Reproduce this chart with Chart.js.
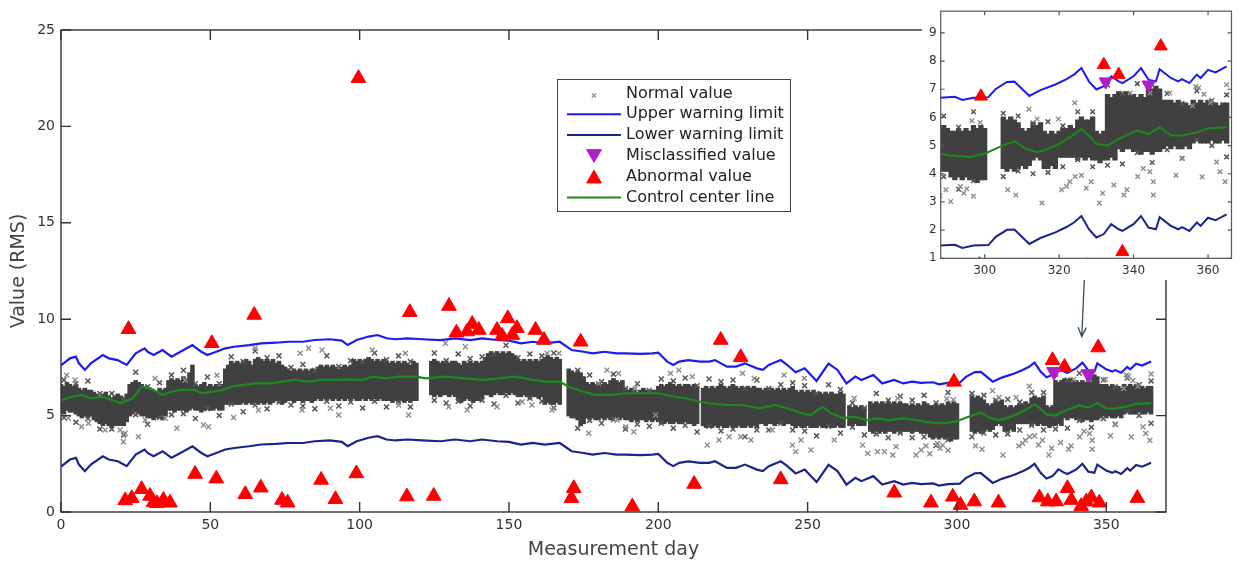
<!DOCTYPE html>
<html>
<head>
<meta charset="utf-8">
<title>Measurement control chart</title>
<script src="https://cdn.jsdelivr.net/npm/chart.js@4.4.1/dist/chart.umd.min.js"></script>
<style>
  html, body { margin: 0; padding: 0; background: #fff; }
  #wrap { position: relative; width: 1240px; height: 563px; }
  #main { position: absolute; left: 0; top: 0; }
  #zoom { position: absolute; left: 922px; top: 0; background: #fff; }
</style>
</head>
<body>
<div id="wrap">
  <canvas id="main" width="1240" height="563"></canvas>
  <canvas id="zoom" width="318" height="280"></canvas>
</div>
<script>
// bulk of the normal readings per day (low / high of the dense band), null = no data
const normLow = [
  5.2, 5.1, 5.3, 5.2, 5.2, 5.1, 5.0, 4.9, 5.0, 4.9,
  5.0, 4.8, 4.7, 4.6, 4.5, 4.6, 4.5, 4.4, 4.5, 4.5,
  4.5, 4.5, 4.7, 5.0, 5.1, 5.2, 5.1, 5.0, 5.0, 4.9,
  4.9, 4.8, 4.9, 4.9, 4.8, 5.0, 5.3, 5.3, 5.2, 5.3,
  5.3, 5.3, 5.2, 5.3, 5.4, 5.3, 5.3, 5.2, 5.3, 5.4,
  5.3, 5.3, 5.4, 5.3, 5.3, 5.6, 5.6, 5.7, 5.6, 5.6,
  5.6, 5.7, 5.6, 5.7, 5.6, 5.7, 5.6, 5.7, 5.6, 5.7,
  5.6, 5.7, 5.8, 5.7, 5.6, 5.7, 5.8, 5.8, 5.7, 5.8,
  5.8, 5.7, 5.8, 5.8, 5.7, 5.8, 5.9, 5.8, 5.9, 5.8,
  5.9, 5.8, 5.9, 5.8, 5.9, 5.8, 5.9, 5.8, 5.9, 5.8,
  5.8, 5.9, 5.8, 5.9, 5.8, 5.9, 5.8, 5.9, 5.8, 5.8,
  5.8, 5.7, 5.8, 5.7, 5.8, 5.7, 5.8, 5.7, 5.8, 5.8,
  null, null, null, null, 6.1, 6.0, 6.1, 6.0, 6.1, 6.1,
  6.0, 6.1, 6.0, 5.8, 5.7, 5.8, 5.9, 5.8, 5.7, 5.8,
  5.8, 5.9, 6.1, 6.1, 6.0, 6.1, 6.2, 6.1, 6.1, 6.2,
  6.1, 6.2, 6.1, 6.0, 6.0, 6.1, 6.0, 5.9, 6.0, 6.0,
  5.9, 6.0, 5.6, 5.7, 5.6, 5.6, 5.7, 5.6, null, null,
  5.0, 4.9, 4.9, 4.8, 4.5, 4.6, 4.9, 4.8, 4.9, 4.8,
  4.8, 4.9, 4.8, 4.9, 4.8, 4.9, 4.9, 4.8, 4.9, 4.8,
  4.8, 4.7, 4.8, 4.7, 4.8, 4.8, 4.7, 4.8, 4.7, 4.8,
  4.7, 4.6, 4.6, 4.7, 4.6, 4.6, 4.7, 4.6, 4.6, 4.7,
  4.6, 4.6, 4.5, 4.6, null, 4.5, 4.4, 4.5, 4.4, 4.5,
  4.4, 4.5, 4.4, 4.4, 4.5, 4.4, 4.4, 4.5, 4.4, 4.4,
  4.5, 4.4, 4.5, 4.4, 4.6, 4.6, 4.5, 4.6, 4.6, 4.5,
  4.6, 4.6, 4.5, 4.6, 4.6, 4.5, 4.4, 4.5, 4.4, 4.4,
  4.5, 4.4, 4.4, 4.4, 4.5, 4.4, 4.4, 4.5, 4.4, 4.4,
  4.5, 4.4, 4.4, null, 4.5, 4.5, 4.6, 4.5, 4.5, 4.5,
  null, 4.2, 4.1, 4.2, 4.1, 4.2, 4.1, 4.2, 4.2, 4.1,
  4.2, 4.1, 4.2, 4.2, 4.2, 4.1, 4.2, 4.2, 4.1, 4.1,
  4.1, 3.9, 3.8, 3.9, 3.8, 3.9, 3.8, 3.8, 3.7, 3.8,
  3.8, null, null, null, null, 4.2, 4.1, 4.2, 4.1, 4.2,
  4.3, 4.2, 4.3, 4.5, 4.6, 4.5, 4.2, 4.2, 4.3, 4.2,
  4.6, 4.6, 4.6, 4.6, 4.6, 4.5, 4.6, 4.5, 4.6, 4.5,
  4.5, 4.4, 4.5, 4.5, 4.6, 4.5, 4.9, 4.8, 4.9, 4.9,
  4.8, 4.8, 4.7, 4.8, 4.8, 4.7, 4.8, 4.8, 4.9, 5.0,
  4.9, 5.0, 4.9, 4.9, 5.0, 4.9, 5.1, 5.2, 5.1, 5.1,
  5.1, 5.2, 5.1, 5.1, 5.2, 5.1
];
const normHigh = [
  6.6, 6.5, 6.7, 6.6, 6.5, 6.6, 6.4, 6.3, 6.4, 6.3,
  6.3, 6.2, 6.1, 6.0, 6.1, 6.2, 6.0, 5.9, 6.0, 6.1,
  6.0, 5.9, 6.1, 6.6, 6.7, 6.8, 6.7, 6.6, 6.5, 6.4,
  6.3, 6.3, 6.2, 6.4, 6.3, 6.4, 6.8, 6.9, 6.8, 6.9,
  6.8, 7.0, 6.9, 7.2, 7.6, 6.6, 6.5, 6.6, 6.7, 6.5,
  6.6, 6.5, 6.6, 6.5, 6.6, 7.4, 7.6, 7.8, 7.7, 7.8,
  7.7, 7.8, 7.9, 7.8, 7.6, 7.9, 8.0, 7.9, 7.8, 7.9,
  7.8, 7.9, 7.7, 7.8, 7.6, 7.5, 7.4, 7.3, 7.4, 7.3,
  7.4, 7.3, 7.4, 7.3, 7.4, 7.3, 7.5, 7.6, 7.5, 7.6,
  7.5, 7.6, 7.5, 7.4, 7.5, 7.6, 7.5, 7.6, 7.9, 7.8,
  7.9, 7.8, 7.9, 8.0, 7.9, 7.8, 7.9, 7.8, 7.9, 7.8,
  7.7, 7.8, 7.7, 7.8, 7.7, 7.8, 7.7, 7.6, 7.8, 7.7,
  null, null, null, null, 7.8, 7.9, 7.8, 7.7, 7.8, 7.8,
  7.7, 7.8, 7.8, 7.7, 7.6, 7.8, 7.7, 7.8, 7.7, 7.8,
  7.7, 7.8, 8.0, 8.2, 8.3, 8.2, 8.3, 8.2, 8.3, 8.2,
  8.3, 8.2, 8.1, 7.9, 7.8, 7.9, 7.8, 7.9, 7.8, 7.9,
  7.8, 7.9, 8.0, 8.1, 8.0, 7.9, 8.0, 7.9, null, null,
  7.4, 7.3, 7.2, 7.3, 7.2, 7.0, 6.7, 6.6, 6.7, 6.6,
  6.7, 6.6, 6.7, 6.6, 6.8, 6.9, 6.8, 6.7, 6.8, 6.4,
  6.3, 6.4, 6.3, 6.2, 6.3, 6.4, 6.3, 6.2, 6.3, 6.3,
  6.5, 6.6, 6.5, 6.6, 6.7, 6.6, 6.5, 6.6, 6.5, 6.6,
  6.6, 6.5, 6.6, 6.5, null, 6.4, 6.5, 6.4, 6.5, 6.4,
  6.5, 6.6, 6.5, 6.4, 6.5, 6.6, 6.5, 6.4, 6.5, 6.4,
  6.5, 6.4, 6.5, 6.4, 6.4, 6.3, 6.4, 6.3, 6.4, 6.3,
  6.4, 6.3, 6.4, 6.3, 6.4, 6.5, 6.3, 6.2, 6.3, 6.2,
  6.3, 6.2, 6.3, 6.1, 6.2, 6.1, 6.2, 6.1, 6.2, 6.1,
  6.1, 6.2, 6.1, null, 5.5, 5.4, 5.5, 5.4, 5.5, 5.4,
  null, 5.7, 5.6, 5.7, 5.6, 5.7, 5.6, 5.7, 5.6, 5.7,
  5.6, 5.7, 5.6, 5.6, 5.5, 5.6, 5.5, 5.6, 5.5, 5.7,
  5.6, 5.5, 5.5, 5.6, 5.5, 5.6, 5.5, 5.7, 5.6, 5.7,
  5.6, null, null, null, null, 6.0, 5.9, 6.0, 5.9, 5.8,
  5.6, 5.5, 5.6, 5.8, 5.7, 5.8, 5.5, 5.4, 5.5, 5.4,
  5.5, 5.6, 5.6, 5.7, 5.6, 5.9, 6.0, 5.9, 5.9, 6.0,
  5.5, 5.4, 5.5, 6.8, 6.7, 6.8, 6.9, 6.8, 6.9, 6.8,
  6.8, 6.7, 6.8, 6.7, 7.1, 7.0, 7.1, 7.0, 6.6, 6.6,
  6.6, 6.5, 6.6, 6.5, 6.5, 6.4, 6.6, 6.5, 6.6, 6.5,
  6.6, 6.5, 6.5, 6.4, 6.5, 6.5
];

// normal readings scattered along the ragged upper / lower edge of the band
const edgeDays = [
  1, 5, 9, 13, 17, 21, 25, 29, 33, 37, 41, 45, 49, 53, 57, 61, 65, 69, 73, 77,
  81, 85, 89, 93, 97, 101, 105, 109, 113, 117, 125, 129, 133, 137, 141, 145, 149, 153, 157, 161,
  165, 173, 177, 181, 185, 189, 193, 197, 201, 205, 209, 213, 217, 221, 225, 229, 233, 237, 241, 245,
  249, 253, 257, 261, 265, 269, 273, 277, 281, 285, 289, 293, 297, 305, 309, 313, 317, 321, 325, 329,
  333, 337, 341, 345, 349, 353, 357, 361, 365
];
const edgeTop = [
  6.85, 6.65, 6.8, 6.15, 6.15, 5.9, 7.25, 6.5, 6.7, 7.1, 7.35, 6.65, 7.0, 6.65, 8.05, 7.8, 8.35, 8.0, 8.1, 7.5,
  7.65, 7.35, 8.1, 7.55, 7.85, 7.8, 8.25, 7.9, 8.1, 7.8, 8.25, 7.85, 8.2, 7.95, 8.05, 8.2, 8.65, 8.0, 8.2, 8.1,
  8.25, 7.35, 7.1, 6.75, 7.15, 6.4, 6.65, 6.3, 6.9, 6.8, 6.95, 6.55, 6.9, 6.75, 6.85, 6.4, 6.85, 6.4, 6.6, 6.7,
  6.55, 6.15, 6.6, 6.35, 5.65, 5.4, 6.15, 5.8, 6.0, 5.8, 6.05, 5.65, 6.2, 6.15, 6.05, 5.8, 5.85, 5.7, 6.2, 6.2,
  7.15, 6.85, 7.2, 7.15, 6.85, 6.5, 6.95, 6.6, 6.8
];
const edgeBottom = [
  4.9, 4.65, 4.85, 4.3, 4.3, 4.0, 5.05, 4.55, 4.9, 5.05, 5.1, 4.85, 5.35, 5.0, 5.6, 5.2, 5.55, 5.35, 5.7, 5.55,
  5.5, 5.35, 5.75, 5.5, 5.7, 5.4, 5.75, 5.45, 5.7, 5.45, 5.8, 5.65, 5.75, 5.5, 5.8, 5.6, 6.05, 5.65, 5.9, 5.75,
  5.4, 4.35, 4.75, 4.6, 4.8, 4.3, 4.55, 4.45, 4.6, 4.35, 4.5, 4.15, 4.45, 4.2, 4.3, 3.9, 4.25, 4.25, 4.6, 4.25,
  4.2, 3.95, 4.45, 4.1, 4.4, 4.0, 4.05, 3.85, 4.1, 3.85, 3.9, 3.45, 3.75, 3.9, 4.1, 4.0, 4.05, 4.25, 4.5, 4.25,
  4.3, 4.35, 4.75, 4.4, 4.85, 4.55, 5.2, 5.0, 4.6
];

// normal readings lying outside the dense band
const normX = [
  1.9, 2.5, 4.7, 6.9, 9.2, 14.8, 19.8, 20.9, 21.5, 25.9, 28.2, 31.5, 34.9, 38.8, 41.6,
  47.7, 49.4, 52.2, 57.8, 65, 66.1, 80.1, 80.7, 82.9, 87.4, 90.2, 93, 104.2, 113.1, 115.3,
  116.4, 128.7, 129.8, 135.4, 136, 146, 154.4, 157.7, 162.8, 164.4, 166.7, 176.7, 180, 182.8, 186.2,
  186.7, 189.1, 191.8, 192.3, 199.1, 204.1, 206.9, 211.4, 216.4, 220.3, 223.7, 227.6, 228.2, 231, 232.1,
  238.2, 242.1, 244.9, 246, 247.8, 248.9, 251.1, 258.9, 265.6, 268.4, 270.1, 273.4, 275.7, 278.5, 279.6,
  280.2, 286.3, 288, 289.6, 290.9, 293.5, 294.4, 295.2, 296.6, 297, 298.8, 306.2, 308.4, 311.9, 314.1,
  315.4, 319.8, 320.7, 322, 322.9, 324.2, 324.3, 326, 327.3, 328.6, 330.8, 331.7, 334.7, 337.4, 338.2,
  339.1, 341.1, 342.6, 344.4, 344.4, 345.3, 345.3, 349.7, 351.4, 353.1, 355.8, 356.7, 357.5, 358.4, 358.9,
  360.6, 362.3, 363.2, 364.6, 365
];
const normY = [
  7.1, 4.86, 6.85, 4.42, 4.6, 4.25, 4.25, 3.64, 4.08, 3.9, 4.77, 6.93, 4.86, 4.34, 6.85,
  4.51, 4.42, 7.1, 4.9, 8.49, 5.29, 8.23, 5.29, 8.49, 8.4, 5.38, 5.03, 8.4, 5.55, 8.23,
  5.03, 8.75, 5.46, 8.57, 5.29, 5.46, 5.72, 5.55, 8.23, 5.29, 8.23, 4.08, 6.67, 7.36, 4.77,
  7.19, 4.42, 4.16, 6.41, 5.03, 7.19, 7.36, 7.02, 3.47, 3.73, 3.9, 3.9, 7.19, 3.73, 6.93,
  4.25, 7.1, 3.47, 3.13, 3.73, 6.93, 3.22, 3.73, 5.9, 3.47, 3.04, 3.13, 3.13, 2.96, 3.39,
  5.9, 2.96, 3.22, 3.43, 3.02, 3.55, 3.31, 3.47, 5.88, 3.2, 5.82, 3.43, 3.25, 6.29, 5.94,
  2.96, 5.94, 3.43, 3.56, 3.72, 6.52, 3.9, 3.95, 3.49, 3.72, 2.96, 3.31, 3.6, 3.25, 3.43,
  6.87, 3.9, 4.19, 4.07, 6.87, 3.25, 3.72, 6.87, 3.95, 4.54, 6.41, 7.1, 7.05, 3.89, 6.82,
  6.52, 4.42, 4.07, 3.72, 7.16
];

// warning limits
const limitDays = [
  0, 3, 5, 6, 8, 10, 14, 16, 19, 21, 22, 25, 28, 29, 31, 34, 37, 40, 44, 47,
  49, 52, 55, 58, 63, 67, 72, 76, 81, 85, 90, 94, 96, 99, 103, 106, 109, 112, 116, 121,
  127, 132, 137, 141, 146, 150, 154, 158, 162, 167, 171, 175, 178, 182, 186, 189, 194, 198, 200, 203,
  205, 207, 210, 214, 217, 219, 223, 226, 229, 233, 235, 237, 241, 243, 246, 249, 253, 257, 260, 263,
  266, 268, 272, 275, 279, 282, 285, 288, 292, 294, 297, 301, 303, 306, 308, 312, 315, 319, 322, 324,
  326, 328, 330, 332, 334, 336, 337, 340, 342, 344, 346, 347, 350, 352, 353, 355, 357, 358, 360, 362,
  365
];
const upperLimit = [
  7.60, 7.97, 8.06, 7.71, 7.37, 7.71, 8.14, 7.97, 7.88, 7.71, 7.63, 8.23, 8.49, 8.31, 8.14, 8.40, 8.06, 8.31, 8.66, 8.31,
  8.14, 8.31, 8.49, 8.57, 8.66, 8.75, 8.78, 8.83, 8.83, 8.92, 8.96, 8.89, 8.66, 8.92, 9.10, 9.18, 9.01, 8.96, 9.01, 8.96,
  8.92, 9.01, 8.92, 9.01, 8.92, 8.89, 8.75, 8.83, 8.75, 8.83, 8.40, 8.31, 8.23, 8.31, 8.23, 8.23, 8.20, 8.23, 8.26, 7.80,
  7.63, 7.80, 7.88, 7.80, 7.80, 7.88, 7.54, 7.54, 7.71, 7.45, 7.37, 7.63, 7.88, 7.65, 7.25, 7.45, 6.80, 7.70, 7.37, 6.67,
  7.02, 6.85, 7.11, 6.67, 6.85, 6.67, 6.76, 6.70, 6.73, 6.62, 6.70, 6.72, 7.01, 7.26, 7.27, 6.76, 6.97, 7.17, 7.36, 7.52,
  7.75, 7.28, 6.99, 7.11, 7.46, 7.28, 7.22, 7.46, 7.75, 7.34, 7.28, 7.71, 7.40, 7.28, 7.36, 7.22, 7.52, 7.40, 7.69, 7.60,
  7.81
];
const lowerLimit = [
  2.35, 2.72, 2.81, 2.46, 2.12, 2.46, 2.89, 2.72, 2.63, 2.46, 2.38, 2.98, 3.24, 3.06, 2.89, 3.15, 2.81, 3.06, 3.41, 3.06,
  2.89, 3.06, 3.24, 3.32, 3.41, 3.50, 3.53, 3.58, 3.58, 3.67, 3.71, 3.64, 3.41, 3.67, 3.85, 3.93, 3.76, 3.71, 3.76, 3.71,
  3.67, 3.76, 3.67, 3.76, 3.67, 3.64, 3.50, 3.58, 3.50, 3.58, 3.15, 3.06, 2.98, 3.06, 2.98, 2.98, 2.95, 2.98, 3.01, 2.55,
  2.38, 2.55, 2.63, 2.55, 2.55, 2.63, 2.29, 2.29, 2.46, 2.20, 2.12, 2.38, 2.63, 2.40, 2.00, 2.20, 1.55, 2.45, 2.12, 1.42,
  1.77, 1.60, 1.86, 1.42, 1.60, 1.42, 1.51, 1.45, 1.48, 1.37, 1.45, 1.47, 1.76, 2.01, 2.02, 1.51, 1.72, 1.92, 2.11, 2.27,
  2.50, 2.03, 1.74, 1.86, 2.21, 2.03, 1.97, 2.21, 2.50, 2.09, 2.03, 2.46, 2.15, 2.03, 2.11, 1.97, 2.27, 2.15, 2.44, 2.35,
  2.56
];

// control center line
const centerDays = [
  0, 4, 7, 10, 14, 17, 20, 24, 27, 30, 34, 37, 40, 45, 47, 51, 54, 57, 61, 65,
  70, 74, 78, 83, 87, 92, 96, 101, 104, 109, 113, 119, 122, 129, 135, 141, 147, 152, 158, 162,
  167, 170, 175, 179, 184, 189, 195, 200, 205, 209, 214, 217, 223, 228, 234, 239, 245, 248, 251, 255,
  258, 262, 265, 270, 273, 277, 282, 286, 290, 292, 296, 300, 303, 306, 308, 311, 314, 316, 320, 323,
  326, 328, 330, 333, 336, 338, 341, 344, 347, 350, 353, 357, 360, 365
];
const centerLine = [
  5.80, 5.99, 6.07, 5.90, 5.99, 5.81, 5.64, 5.90, 6.50, 6.41, 6.07, 6.24, 6.33, 6.33, 6.16, 6.24, 6.33, 6.50, 6.59, 6.67,
  6.67, 6.76, 6.85, 6.76, 6.85, 6.85, 6.88, 6.85, 7.02, 6.93, 7.02, 7.02, 6.93, 7.02, 6.93, 6.85, 6.93, 7.02, 6.85, 6.76,
  6.76, 6.50, 6.24, 6.07, 6.07, 6.16, 6.16, 6.16, 5.99, 5.90, 5.72, 5.64, 5.55, 5.55, 5.38, 5.55, 5.29, 5.12, 5.03, 5.46,
  5.12, 4.86, 4.95, 4.77, 4.86, 4.77, 4.86, 4.77, 4.66, 4.64, 4.60, 4.71, 4.89, 5.06, 5.15, 4.89, 4.77, 4.83, 5.06, 5.30,
  5.59, 5.36, 5.06, 5.00, 5.24, 5.36, 5.53, 5.41, 5.65, 5.36, 5.36, 5.47, 5.61, 5.65
];

// abnormal readings
const abnormalX = [
  22.6, 50.5, 64.7, 99.6, 116.8, 129.9, 132.4, 136, 137.7, 139.9, 146, 147.7, 149.6, 151.1, 152.7,
  158.9, 161.7, 174, 220.9, 227.6, 299, 332, 336, 347.3,
  21.5, 23.7, 27, 29.8, 31, 32.1, 34.3, 36.5, 44.9, 52, 61.7, 66.9, 74, 75.9, 87.1,
  91.9, 98.9, 115.8, 124.8, 170.9, 171.7, 191.3, 212, 241, 279, 291.3, 298.6, 301.2, 305.8, 313.9,
  327.6, 330.4, 333.2, 337, 338.3, 341.6, 343.3, 345, 347.7, 360.4
];
const abnormalY = [
  9.48, 8.75, 10.22, 22.5, 10.36, 10.68, 9.3, 9.36, 9.75, 9.44, 9.44, 9.13, 10.04, 9.18, 9.53,
  9.44, 8.92, 8.83, 8.92, 8.02, 6.75, 7.87, 7.52, 8.53,
  0.6, 0.71, 1.18, 0.83, 0.5, 0.45, 0.62, 0.48, 1.97, 1.73, 0.92, 1.26, 0.62, 0.48, 1.66,
  0.66, 2.0, 0.8, 0.83, 0.71, 1.23, 0.28, 1.45, 1.69, 1.0, 0.48, 0.79, 0.36, 0.54, 0.48,
  0.75, 0.54, 0.54, 1.23, 0.62, 0.3, 0.54, 0.75, 0.48, 0.72
];

// misclassified readings
const misX = [332.5, 344];
const misY = [7.27, 7.16];

const mainXTicks = [0, 50, 100, 150, 200, 250, 300, 350];
const mainYTicks = [0, 5, 10, 15, 20, 25];
const zoomXTicks = [300, 320, 340, 360];
const zoomYTicks = [1, 2, 3, 4, 5, 6, 7, 8, 9];

Chart.defaults.font.family = "'DejaVu Sans', sans-serif";

const pts = (xs, ys) => xs.map((x, i) => ({ x: x, y: ys[i] }));
const bandData = normHigh
  .map((hi, d) => (hi == null ? null : { x: d, y: [normLow[d], hi] }))
  .filter(Boolean);
const edgeData = pts(edgeDays, edgeTop).concat(pts(edgeDays, edgeBottom));

function buildDatasets(sz) {
  return [
    {
      type: 'bar', data: bandData, backgroundColor: '#404040',
      barPercentage: 1, categoryPercentage: 1, inflateAmount: 0.8, order: 11
    },
    {
      type: 'scatter', data: edgeData,
      pointStyle: 'crossRot', pointRadius: sz.cross, borderColor: '#555555',
      pointBorderWidth: 1.5, order: 10
    },
    {
      type: 'scatter', label: 'Normal value', data: pts(normX, normY),
      pointStyle: 'crossRot', pointRadius: sz.cross, borderColor: '#8c8c8c',
      pointBorderWidth: 1.4, order: 9
    },
    {
      type: 'line', label: 'Upper warning limit', data: pts(limitDays, upperLimit),
      borderColor: '#1c1cf0', borderWidth: sz.line, pointRadius: 0, tension: 0, order: 6
    },
    {
      type: 'line', label: 'Lower warning limit', data: pts(limitDays, lowerLimit),
      borderColor: '#1b2488', borderWidth: sz.line, pointRadius: 0, tension: 0, order: 6
    },
    {
      type: 'scatter', label: 'Misclassified value', data: pts(misX, misY),
      pointStyle: 'triangle', rotation: 180, pointRadius: sz.tri, clip: sz.clip,
      backgroundColor: '#b01ec8', borderColor: '#b01ec8', pointBorderWidth: 1, order: 1
    },
    {
      type: 'scatter', label: 'Abnormal value', data: pts(abnormalX, abnormalY),
      pointStyle: 'triangle', pointRadius: sz.tri, clip: sz.clip,
      backgroundColor: '#ff0000', borderColor: '#ff0000', pointBorderWidth: 1, order: 2
    },
    {
      type: 'line', label: 'Control center line', data: pts(centerDays, centerLine),
      borderColor: '#1c8a1c', borderWidth: sz.line, pointRadius: 0, tension: 0, order: 5
    }
  ];
}

// box frame with inward tick marks on all four sides
const frameTicks = {
  id: 'frameTicks',
  afterDraw(chart, args, o) {
    const { ctx, chartArea: a, scales: { x, y } } = chart;
    ctx.save();
    ctx.strokeStyle = o.color;
    ctx.lineWidth = o.width;
    ctx.strokeRect(a.left, a.top, a.right - a.left, a.bottom - a.top);
    ctx.beginPath();
    x.ticks.forEach(t => {
      const px = x.getPixelForValue(t.value);
      ctx.moveTo(px, a.bottom); ctx.lineTo(px, a.bottom - o.len);
      ctx.moveTo(px, a.top); ctx.lineTo(px, a.top + o.len);
    });
    y.ticks.forEach(t => {
      const py = y.getPixelForValue(t.value);
      ctx.moveTo(a.left, py); ctx.lineTo(a.left + o.len, py);
      ctx.moveTo(a.right, py); ctx.lineTo(a.right - o.len, py);
    });
    ctx.stroke();
    ctx.restore();
  }
};

// legend box inside the plot
const legendBox = {
  id: 'legendBox',
  afterDraw(chart, args, o) {
    if (!o.show) return;
    const ctx = chart.ctx;
    const items = chart.data.datasets.filter(ds => ds.label);
    ctx.save();
    ctx.fillStyle = '#fff';
    ctx.fillRect(o.left, o.top, o.width, o.height);
    ctx.strokeStyle = '#444';
    ctx.lineWidth = 1;
    ctx.strokeRect(o.left + 0.5, o.top + 0.5, o.width, o.height);
    ctx.font = o.font;
    ctx.textBaseline = 'middle';
    items.forEach((ds, i) => {
      const cy = o.top + o.first + i * o.row;
      const mx = o.left + 37;
      if (ds.type === 'line') {
        ctx.strokeStyle = ds.borderColor;
        ctx.lineWidth = 2;
        ctx.beginPath();
        ctx.moveTo(o.left + 10, cy);
        ctx.lineTo(o.left + 64, cy);
        ctx.stroke();
      } else {
        ctx.fillStyle = ds.backgroundColor || ds.borderColor;
        ctx.strokeStyle = ds.borderColor;
        ctx.lineWidth = ds.pointBorderWidth;
        const small = ds.pointStyle === 'crossRot';
        Chart.helpers.drawPoint(ctx, {
          pointStyle: ds.pointStyle,
          rotation: ds.rotation || 0,
          radius: small ? 3 : 8.5,
          borderWidth: small ? 1 : ds.pointBorderWidth
        }, mx, cy + (ds.rotation ? -2 : 2));
      }
      ctx.fillStyle = '#222';
      ctx.fillText(ds.label, o.left + 69, cy);
    });
    ctx.restore();
  }
};

// arrow pointing from the zoomed view down to the region it enlarges
const zoomArrow = {
  id: 'zoomArrow',
  afterDraw(chart, args, o) {
    if (!o.from) return;
    const { ctx, scales: { x, y } } = chart;
    const x0 = x.getPixelForValue(o.from[0]), y0 = y.getPixelForValue(o.from[1]);
    const x1 = x.getPixelForValue(o.to[0]), y1 = y.getPixelForValue(o.to[1]);
    const ang = Math.atan2(y1 - y0, x1 - x0);
    ctx.save();
    ctx.strokeStyle = '#3a4866';
    ctx.lineWidth = 1.3;
    ctx.beginPath();
    ctx.moveTo(x0, y0); ctx.lineTo(x1, y1);
    ctx.moveTo(x1 - 10 * Math.cos(ang - 0.42), y1 - 10 * Math.sin(ang - 0.42));
    ctx.lineTo(x1, y1);
    ctx.lineTo(x1 - 10 * Math.cos(ang + 0.42), y1 - 10 * Math.sin(ang + 0.42));
    ctx.stroke();
    ctx.restore();
  }
};

function axis(cfg) {
  return {
    type: 'linear',
    min: cfg.min, max: cfg.max, offset: false,
    afterBuildTicks: s => { s.ticks = cfg.ticks.map(v => ({ value: v })); },
    afterFit: s => { if (cfg.w != null) s.width = cfg.w; if (cfg.h != null) s.height = cfg.h; },
    grid: { display: false, drawTicks: false },
    border: { display: false },
    ticks: { font: { size: cfg.fs }, color: '#333', padding: cfg.pad, maxRotation: 0, autoSkip: false },
    title: cfg.title ? {
      display: true, text: cfg.title, color: '#444',
      font: { size: 19 }, padding: cfg.tpad
    } : { display: false }
  };
}

new Chart(document.getElementById('main'), {
  type: 'bar',
  data: { datasets: buildDatasets({ cross: 3.5, line: 2.2, tri: 8.5, clip: false }) },
  options: {
    responsive: false, animation: false, events: [],
    layout: { padding: { top: 30, right: 74, bottom: 0, left: 0 } },
    scales: {
      x: axis({ min: 0, max: 370, ticks: mainXTicks, h: 51, fs: 14, pad: 5,
                title: 'Measurement day', tpad: { top: 0, bottom: 2 } }),
      y: axis({ min: 0, max: 25, ticks: mainYTicks, w: 61, fs: 14, pad: 6,
                title: 'Value (RMS)', tpad: { top: 8, bottom: 0 } })
    },
    plugins: {
      legend: { display: false },
      tooltip: { enabled: false },
      frameTicks: { color: '#333', width: 1.4, len: 10 },
      legendBox: { show: true, left: 557, top: 79, width: 233, height: 132, first: 14.5, row: 20.8,
                   font: "16px 'DejaVu Sans', sans-serif" },
      zoomArrow: { from: [342.8, 12.6], to: [341.8, 9.1] }
    }
  },
  plugins: [frameTicks, legendBox, zoomArrow]
});

new Chart(document.getElementById('zoom'), {
  type: 'bar',
  data: { datasets: buildDatasets({ cross: 3.2, line: 2, tri: 7.5, clip: 0 }) },
  options: {
    responsive: false, animation: false, events: [],
    layout: { padding: { top: 7.3, right: 3.3, bottom: 0, left: 0 } },
    scales: {
      x: axis({ min: 288.2, max: 366.3, ticks: zoomXTicks, h: 21.7, fs: 12, pad: 5 }),
      y: axis({ min: 1, max: 9.77, ticks: zoomYTicks, w: 18.7, fs: 12, pad: 4 })
    },
    plugins: {
      legend: { display: false },
      tooltip: { enabled: false },
      frameTicks: { color: '#555', width: 1.2, len: 4 },
      legendBox: { show: false },
      zoomArrow: {}
    }
  },
  plugins: [frameTicks, legendBox, zoomArrow]
});
</script>
</body>
</html>
